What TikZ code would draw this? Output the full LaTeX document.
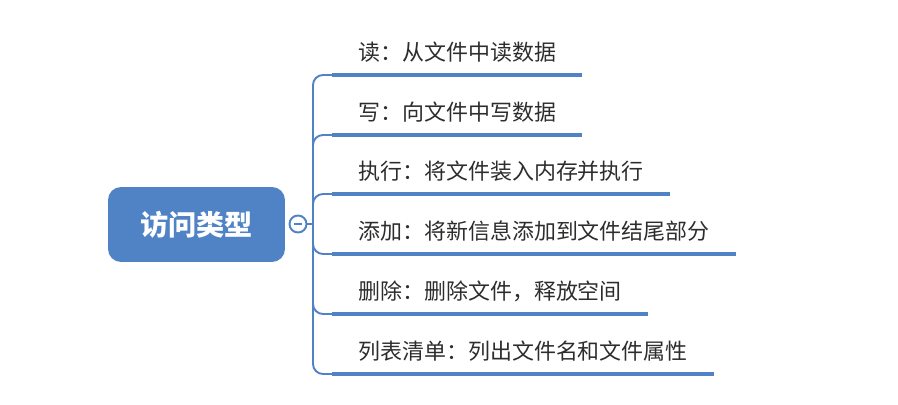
\documentclass[tikz,border=0pt]{standalone}
\usepackage{fontspec}
\newfontfamily\cjk{Noto Sans CJK SC}
\definecolor{mapblue}{RGB}{80,130,198}
\definecolor{leaftext}{RGB}{45,45,45}
\tikzset{
	root/.style={rectangle, rounded corners=0.26cm, fill=mapblue, text=white,
		minimum width=3.54cm, minimum height=1.5cm, font=\cjk\fontsize{16}{18}\selectfont\bfseries},
	fold/.style={circle, draw=mapblue, line width=1.1pt, fill=white, minimum size=0.34cm, inner sep=0pt},
	leaf/.style={anchor=south west, inner xsep=0.52cm, inner ysep=0.24cm, text=leaftext,
		font=\cjk\fontsize{12.5}{14}\selectfont},
	bar/.style={draw=mapblue, line width=2.3pt},
	link/.style={draw=mapblue, line width=1.1pt, rounded corners=0.2cm}
}
\begin{document}
\begin{tikzpicture}[x=0.02cm, y=-0.02cm]
	\useasboundingbox (0,0) rectangle (898,405);
	% Root
	\node[root] (root) at (196.5,224.5) {访问类型};
	\node[fold] (fold) at (298,224) {};
	\draw[mapblue, line width=1pt] ([xshift=-0.08cm]fold.center) -- ([xshift=0.08cm]fold.center);
	\coordinate (trunk) at (313,224);
	\draw[link] (fold.east) -- (trunk);
	% Branches
	\foreach \i/\y/\txt in {1/75/{读：从文件中读数据}, 2/135/{写：向文件中写数据},
			3/194/{执行：将文件装入内存并执行}, 4/254/{添加：将新信息添加到文件结尾部分},
			5/314/{删除：删除文件，释放空间}, 6/374/{列表清单：列出文件名和文件属性}}
	{
		\node[leaf] (r\i) at (332,\y) {\txt};
		\draw[bar] (r\i.south west) -- (r\i.south east);
		\draw[link] (trunk) |- (r\i.south west);
	}
\end{tikzpicture}
\end{document}
